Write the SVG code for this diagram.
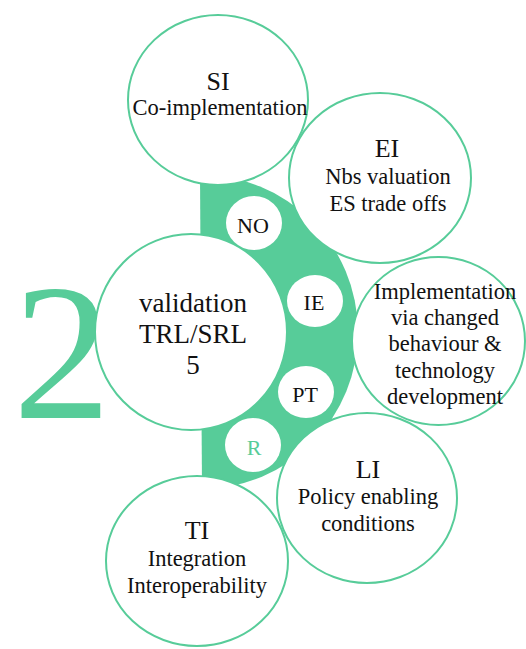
<svg xmlns="http://www.w3.org/2000/svg" width="526" height="649" viewBox="0 0 526 649">
<style>
.big{fill:#fff;stroke:#57CC99;stroke-width:2}
.small{fill:#fff;stroke:none}
text{fill:#111;text-anchor:middle}
.h{font-size:26px}
.t{font-size:22.5px}
.c{font-size:27px}
.s{font-size:22px}
</style>
<rect width="526" height="649" fill="#fff"/>
<g font-family="'Liberation Serif', 'DejaVu Serif', 'Times New Roman', serif">
<text id="numeral" x="13" y="418" style="font-size:196px;fill:#57CC99;text-anchor:start">2</text>
<g id="connectors">
<path id="band" d="M200,175 A157,157 0 0 1 202,489 Z" fill="#57CC99"/>
</g>
<g id="center">
<ellipse class="big" cx="191" cy="332" rx="96" ry="98"/>
<text class="c" x="193" y="312">validation</text>
<text class="c" x="193" y="343">TRL/SRL</text>
<text class="c" x="193" y="374">5</text>
</g>
<g id="SI">
<ellipse class="big" cx="218" cy="100" rx="90" ry="85"/>
<text class="h" x="218" y="90">SI</text>
<text class="t" x="220" y="115">Co-implementation</text>
</g>
<g id="EI">
<ellipse class="big" cx="380" cy="178" rx="91" ry="85"/>
<text class="h" x="387" y="157">EI</text>
<text class="t" x="388" y="184">Nbs valuation</text>
<text class="t" x="388" y="211">ES trade offs</text>
</g>
<g id="IMP">
<ellipse class="big" cx="438.5" cy="341" rx="86.5" ry="84"/>
<text class="t" x="445" y="299">Implementation</text>
<text class="t" x="445" y="325">via changed</text>
<text class="t" x="445" y="351">behaviour &amp;</text>
<text class="t" x="445" y="378">technology</text>
<text class="t" x="445" y="404">development</text>
</g>
<g id="LI">
<ellipse class="big" cx="367" cy="498" rx="90" ry="85"/>
<text class="h" x="368" y="478">LI</text>
<text class="t" x="368" y="504">Policy enabling</text>
<text class="t" x="368" y="531">conditions</text>
</g>
<g id="TI">
<ellipse class="big" cx="197" cy="561" rx="91" ry="85"/>
<text class="h" x="197" y="539">TI</text>
<text class="t" x="197" y="566">Integration</text>
<text class="t" x="197" y="593">Interoperability</text>
</g>
<g id="NO">
<ellipse class="small" cx="254" cy="223" rx="28" ry="27"/>
<text class="s" x="253" y="233">NO</text>
</g>
<g id="IE">
<ellipse class="small" cx="315" cy="301" rx="28" ry="26"/>
<text class="s" x="314" y="310">IE</text>
</g>
<g id="PT">
<ellipse class="small" cx="306" cy="392" rx="28" ry="26"/>
<text class="s" x="305" y="402">PT</text>
</g>
<g id="R">
<ellipse class="small" cx="253" cy="445" rx="28" ry="27"/>
<text class="s" x="254" y="455" style="fill:#57CC99">R</text>
</g>
</g>
</svg>
